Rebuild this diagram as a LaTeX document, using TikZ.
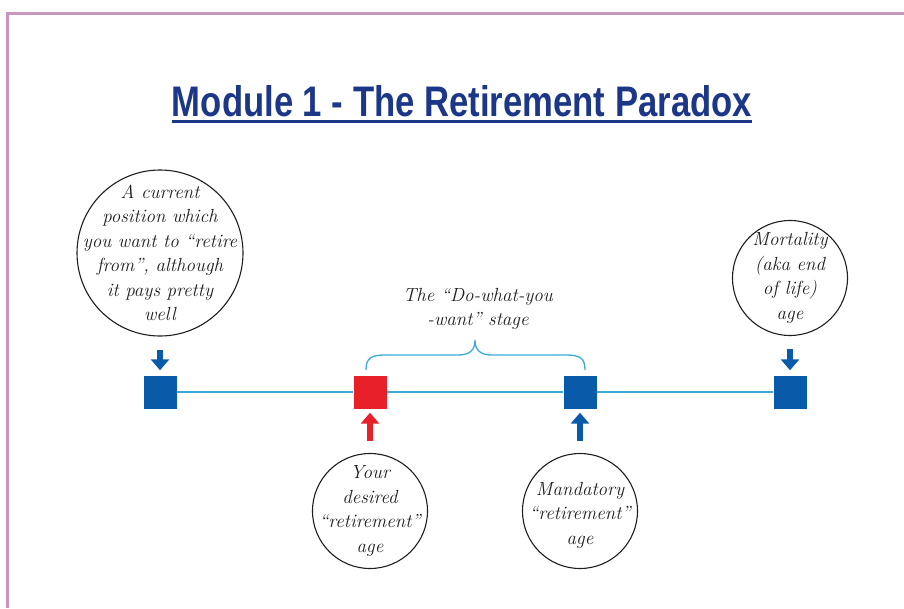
\documentclass[tikz,border=0pt]{standalone}
\usepackage{fontspec}
\newfontfamily\titlefont{Liberation Sans}
\usetikzlibrary{arrows.meta}
\definecolor{framecol}{RGB}{200,150,190}
\definecolor{titleblue}{RGB}{28,55,135}
\definecolor{sqblue}{RGB}{10,90,170}
\definecolor{sqred}{RGB}{232,32,42}
\definecolor{lineblue}{RGB}{60,170,215}
\definecolor{ink}{RGB}{30,30,30}
\begin{document}
\begin{tikzpicture}[x=1pt,y=-1pt,
  sq/.style={draw=none, minimum size=33pt, inner sep=0pt},
  bub/.style={circle, draw=ink, line width=1.1pt, inner sep=0pt, minimum size=#1},
  txt/.style={align=center, text=ink, inner sep=0pt, font=\fontsize{19}{24.5}\selectfont\itshape},
  arr/.style={line width=6pt, -{Triangle[width=18pt,length=11pt]}},
]
\useasboundingbox (0,0) rectangle (904,608);
\draw[framecol, line width=3pt] (7,608) -- (7,13) -- (904,13);

\node[anchor=base, text=titleblue, inner sep=0pt] (title) at (462,116)
  {\resizebox{580pt}{31pt}{\titlefont\bfseries Module 1 - The Retirement Paradox}};
\draw[titleblue, line width=2.5pt] ([yshift=-5pt]title.south west) -- ([yshift=-5pt]title.south east);

\node[sq, fill=sqblue] (s1) at (160,392) {};
\node[sq, fill=sqred] (s2) at (370,392) {};
\node[sq, fill=sqblue] (s3) at (580,392) {};
\node[sq, fill=sqblue] (s4) at (790,392) {};
\draw[lineblue, line width=1.6pt] (s1.east) -- (s2.west) (s2.east) -- (s3.west) (s3.east) -- (s4.west);

\node[bub=166pt] (c1) at (160,253) {};
\node[txt] (t1) at (c1.center) {A current\\position which\\you want to “retire\\from”, although\\it pays pretty\\well};
\node[bub=115pt] (c4) at (790,278) {};
\node[txt] (t4) at (c4.center) {Mortality\\(aka end\\of life)\\age};
\node[bub=115pt] (c2) at (370,511) {};
\node[txt] (t2) at (c2.center) {Your\\desired\\“retirement”\\age};
\node[bub=115pt] (c3) at (580,511) {};
\node[txt] (t3) at ([yshift=-4pt]c3.center) {Mandatory\\“retirement”\\age};

\draw[arr, sqblue, shorten <=13pt, shorten >=5pt] (c1.south) -- (s1.north);
\draw[arr, sqblue, shorten <=13pt, shorten >=5pt] (c4.south) -- (s4.north);
\draw[arr, sqred, shorten <=12pt, shorten >=4pt] (c2.north) -- (s2.south);
\draw[arr, sqblue, shorten <=12pt, shorten >=4pt] (c3.north) -- (s3.south);

\draw[lineblue, line width=1.3pt] (366,370) .. controls (366,358) and (371,355) .. (386,355) -- (458,355)
  .. controls (470,355) and (475,350) .. (475,340) .. controls (475,350) and (480,355) .. (492,355)
  -- (566,355) .. controls (580,355) and (585,358) .. (585,370);
\node[txt] (bt) at (478,309) {The “Do-what-you\\-want” stage};
\end{tikzpicture}
\end{document}
